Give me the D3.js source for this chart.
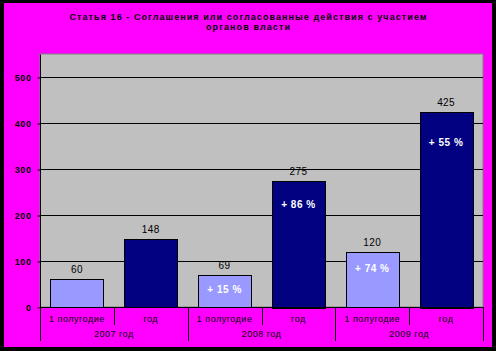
<!DOCTYPE html>
<html>
<head>
<meta charset="utf-8">
<script src="https://cdn.jsdelivr.net/npm/d3@7"></script>
<style>
body { margin: 0; background: #000; }
svg { display: block; }
</style>
</head>
<body>
<script>
// données
var periodes = ["1 полугодие", "год", "1 полугодие", "год", "1 полугодие", "год"];
var annees = ["2007 год", "2008 год", "2009 год"];
var valeurs = [60, 148, 69, 275, 120, 425];
var hausses = ["", "", "+ 15 %", "+ 86 %", "+ 74 %", "+ 55 %"];
var ticksY = [0, 100, 200, 300, 400, 500];
var titre = ["Статья 16 - Соглашения или согласованные действия с участием", "органов власти"];

var larg = 496;
var haut = 351;
var gauche = 40, droite = 483, haut_plot = 54, bas_plot = 307;
var police = "Arial, 'Liberation Sans', sans-serif";

var svg = d3.select("body")
	.append("svg")
	.attr("width", larg)
	.attr("height", haut);

// fond noir + cadre magenta
svg.append("rect").attr("width", larg).attr("height", haut).attr("fill", "#000");
svg.append("rect")
	.attr("x", 4).attr("y", 3)
	.attr("width", 488).attr("height", 344)
	.attr("fill", "#ff00ff");

var xScale = d3.scaleBand()
	.domain(d3.range(valeurs.length))
	.range([gauche, droite])
	.paddingInner(0.28)
	.paddingOuter(0.14);

var yScale = d3.scaleLinear()
	.domain([0, 550])
	.range([bas_plot, haut_plot]);

// zone du graphe
svg.append("rect")
	.attr("x", gauche).attr("y", haut_plot)
	.attr("width", droite - gauche).attr("height", bas_plot - haut_plot)
	.attr("fill", "#c0c0c0")
	.attr("stroke", "#808080")
	.attr("stroke-width", 1);

// grille
svg.selectAll("line.grille")
	.data(ticksY.filter(function(d) { return d > 0; }))
	.enter()
	.append("line")
	.attr("x1", gauche).attr("x2", droite)
	.attr("y1", function(d) { return Math.round(yScale(d)) + 0.5; })
	.attr("y2", function(d) { return Math.round(yScale(d)) + 0.5; })
	.attr("stroke", "#000");

// axe Y
var axeY = d3.axisLeft(yScale)
	.tickValues(ticksY)
	.tickSize(3)
	.tickPadding(6);
var gY = svg.append("g")
	.attr("transform", "translate(" + (gauche + 0.5) + ",0.5)")
	.call(axeY);
gY.select(".domain").attr("stroke", "#000").attr("d", "M0," + bas_plot + "V" + haut_plot);
gY.selectAll("text")
	.attr("font-family", police)
	.attr("font-size", "9px")
	.attr("font-weight", "bold")
	.attr("letter-spacing", "0.6px")
	.attr("fill", "#000");

// barres
svg.selectAll("rect.barre")
	.data(valeurs)
	.enter()
	.append("rect")
	.attr("class", "barre")
	.attr("x", function(d, i) { return Math.round(xScale(i)) + 0.5; })
	.attr("y", function(d) { return Math.round(yScale(d)) + 0.5; })
	.attr("width", Math.round(xScale.bandwidth()))
	.attr("height", function(d) { return Math.round(bas_plot - yScale(d)); })
	.attr("fill", function(d, i) { return i % 2 == 0 ? "#9999ff" : "#000080"; })
	.attr("stroke", "#000")
	.attr("stroke-width", 1);

// axe X (ligne du zéro)
svg.append("line")
	.attr("x1", gauche).attr("x2", droite)
	.attr("y1", bas_plot + 0.5).attr("y2", bas_plot + 0.5)
	.attr("stroke", "#000");

// valeurs au-dessus
svg.selectAll("text.valeur")
	.data(valeurs)
	.enter()
	.append("text")
	.text(function(d) { return d; })
	.attr("x", function(d, i) { return xScale(i) + xScale.bandwidth() / 2; })
	.attr("y", function(d) { return yScale(d) - 6; })
	.attr("text-anchor", "middle")
	.attr("font-family", police)
	.attr("font-size", "10px")
	.attr("letter-spacing", "0.4px")
	.attr("fill", "#000");

// pourcentages dans les barres
svg.selectAll("text.hausse")
	.data(valeurs)
	.enter()
	.append("text")
	.text(function(d, i) { return hausses[i]; })
	.attr("x", function(d, i) { return xScale(i) + xScale.bandwidth() / 2; })
	.attr("y", function(d) {
		var h = bas_plot - yScale(d);
		return yScale(d) + 12 + h * 0.1 + 3;
	})
	.attr("text-anchor", "middle")
	.attr("font-family", police)
	.attr("font-size", "10px")
	.attr("font-weight", "bold")
	.attr("letter-spacing", "0.5px")
	.attr("fill", "#fff");

// séparateurs de l'axe X
var pas = (droite - gauche) / valeurs.length;
d3.range(valeurs.length + 1).forEach(function(i) {
	var x = Math.round(gauche + i * pas) + 0.5;
	svg.append("line")
		.attr("x1", x).attr("x2", x)
		.attr("y1", bas_plot)
		.attr("y2", i % 2 == 0 ? 341 : 325)
		.attr("stroke", "#000");
});

svg.selectAll("text.periode")
	.data(periodes)
	.enter()
	.append("text")
	.text(function(d) { return d; })
	.attr("x", function(d, i) { return gauche + (i + 0.5) * pas; })
	.attr("y", 322)
	.attr("text-anchor", "middle")
	.attr("font-family", police)
	.attr("font-size", "9px")
	.attr("letter-spacing", "0.5px")
	.attr("fill", "#000");

svg.selectAll("text.annee")
	.data(annees)
	.enter()
	.append("text")
	.text(function(d) { return d; })
	.attr("x", function(d, i) { return gauche + (2 * i + 1) * pas; })
	.attr("y", 337)
	.attr("text-anchor", "middle")
	.attr("font-family", police)
	.attr("font-size", "9px")
	.attr("letter-spacing", "0.5px")
	.attr("fill", "#000");

// titre
svg.selectAll("text.titre")
	.data(titre)
	.enter()
	.append("text")
	.text(function(d) { return d; })
	.attr("x", 248)
	.attr("y", function(d, i) { return 20 + i * 10; })
	.attr("text-anchor", "middle")
	.attr("textLength", function(d, i) { return i == 0 ? 357 : 84; })
	.attr("lengthAdjust", "spacing")
	.attr("font-family", police)
	.attr("font-size", "9px")
	.attr("font-weight", "bold")
	.attr("fill", "#000");
</script>
</body>
</html>
